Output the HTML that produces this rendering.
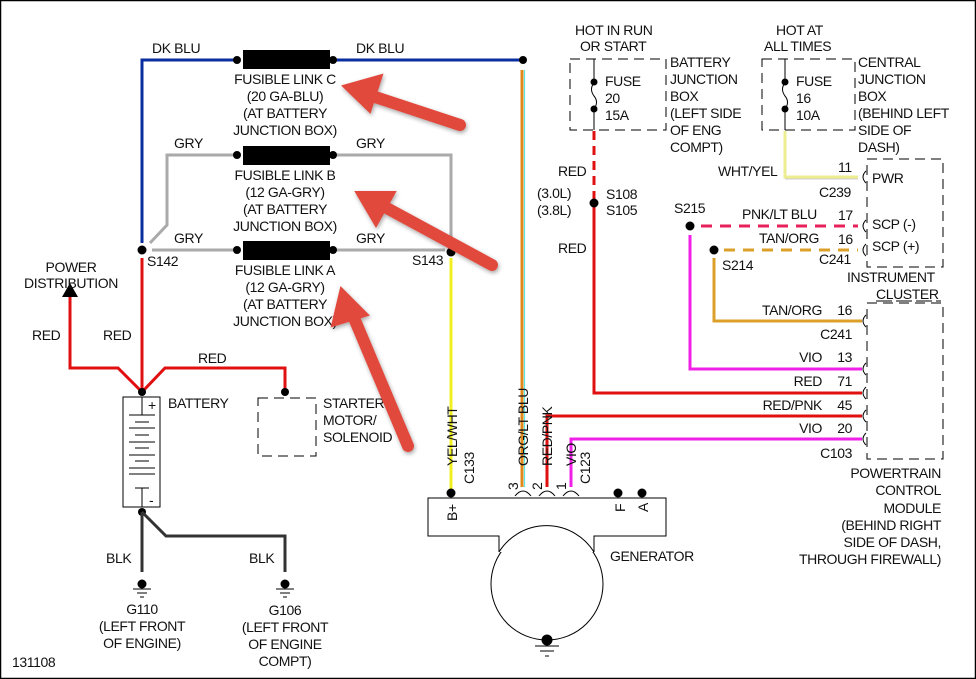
<!DOCTYPE html>
<html><head><meta charset="utf-8"><style>
html,body{margin:0;padding:0;background:#fff}
svg{display:block}
text{font-family:"Liberation Sans",sans-serif;font-size:14px;fill:#111;letter-spacing:-0.4px}
</style></head><body>
<svg width="976" height="679" viewBox="0 0 976 679" xmlns="http://www.w3.org/2000/svg">
<defs>
<filter id="sh" x="-20%" y="-20%" width="140%" height="140%"><feDropShadow dx="1" dy="2" stdDeviation="2" flood-color="#000" flood-opacity="0.35"/></filter>
</defs>
<rect x="0.5" y="0.5" width="975" height="678" fill="#fff" stroke="#000" stroke-width="1.5"/>

<!-- DK BLU -->
<polyline points="142,243 142,60 237,60" fill="none" stroke="#0a2ea0" stroke-width="3"/>
<line x1="333" y1="60" x2="520" y2="60" stroke="#0a2ea0" stroke-width="3"/>
<circle cx="523" cy="60" r="4" fill="#000"/>
<!-- ORG/LT BLU -->
<line x1="522" y1="70" x2="522" y2="487" stroke="#e08a1e" stroke-width="3"/>
<line x1="524.5" y1="70" x2="524.5" y2="487" stroke="#5fe6e6" stroke-width="1.2"/>
<!-- GRY -->
<polyline points="237,155 167,155 167,225 150,243" fill="none" stroke="#aaa" stroke-width="3"/>
<polyline points="333,155 451,155 451,250" fill="none" stroke="#aaa" stroke-width="3"/>
<line x1="152" y1="250" x2="237" y2="250" stroke="#aaa" stroke-width="3"/>
<line x1="333" y1="250" x2="445" y2="250" stroke="#aaa" stroke-width="3"/>
<!-- links -->
<g fill="#000">
<rect x="243" y="50" width="87" height="19"/><circle cx="237" cy="60" r="4"/><circle cx="333" cy="60" r="4"/>
<rect x="243" y="146" width="87" height="19"/><circle cx="237" cy="155" r="4"/><circle cx="333" cy="155" r="4"/>
<rect x="243" y="241" width="87" height="19"/><circle cx="237" cy="250" r="4"/><circle cx="333" cy="250" r="4"/>
<circle cx="142" cy="250" r="4.5"/><circle cx="451" cy="252" r="4.5"/>
</g>
<text x="152" y="53">DK BLU</text><text x="356" y="53">DK BLU</text>
<text x="174" y="148">GRY</text><text x="356" y="148">GRY</text>
<text x="174" y="243">GRY</text><text x="356" y="243">GRY</text>
<g text-anchor="middle">
<text x="285" y="84">FUSIBLE LINK C</text><text x="285" y="101">(20 GA-BLU)</text><text x="285" y="118">(AT BATTERY</text><text x="285" y="135">JUNCTION BOX)</text>
<text x="285" y="180">FUSIBLE LINK B</text><text x="285" y="197">(12 GA-GRY)</text><text x="285" y="214">(AT BATTERY</text><text x="285" y="231">JUNCTION BOX)</text>
<text x="285" y="275">FUSIBLE LINK A</text><text x="285" y="292">(12 GA-GRY)</text><text x="285" y="309">(AT BATTERY</text><text x="285" y="326">JUNCTION BOX)</text>
</g>
<text x="147" y="266">S142</text><text x="412" y="265">S143</text>

<!-- RED battery -->
<g fill="none" stroke="#e01010" stroke-width="3">
<line x1="142" y1="258" x2="142" y2="392"/>
<polyline points="142,392 118,368 70,368 70,295"/>
<polyline points="142,392 165,368 285,368 285,392"/>
</g>
<polygon points="70,283 62,297 78,297" fill="#000"/>
<text x="71" y="272" text-anchor="middle">POWER</text><text x="71" y="288" text-anchor="middle">DISTRIBUTION</text>
<text x="32" y="340">RED</text><text x="103" y="340">RED</text><text x="198" y="363">RED</text>
<!-- battery -->
<rect x="123" y="397" width="37" height="110" fill="#fff" stroke="#000"/>
<g stroke="#000" stroke-width="1">
<line x1="142" y1="397" x2="142" y2="415"/><line x1="129" y1="415" x2="155" y2="415"/>
<line x1="135" y1="422" x2="149" y2="422"/><line x1="129" y1="428" x2="155" y2="428"/>
<line x1="135" y1="435" x2="149" y2="435"/><line x1="129" y1="442" x2="155" y2="442"/>
<line x1="135" y1="448" x2="149" y2="448"/><line x1="129" y1="455" x2="155" y2="455"/>
<line x1="135" y1="461" x2="149" y2="461"/><line x1="129" y1="468" x2="155" y2="468"/>
<line x1="129" y1="474" x2="155" y2="474"/><line x1="135" y1="488" x2="149" y2="488"/><line x1="142" y1="488" x2="142" y2="507"/>
</g>
<text x="148" y="410" font-size="12">+</text><text x="149" y="505" font-size="12">-</text>
<circle cx="142" cy="392" r="4" fill="#000"/><circle cx="142" cy="512" r="4" fill="#000"/>
<text x="168" y="408">BATTERY</text>
<rect x="258" y="398" width="58" height="58" fill="none" stroke="#000" stroke-dasharray="10,6"/>
<circle cx="285" cy="392" r="4" fill="#000"/>
<text x="323" y="408">STARTER</text><text x="323" y="425">MOTOR/</text><text x="323" y="442">SOLENOID</text>
<!-- BLK -->
<g fill="none" stroke="#333" stroke-width="3">
<line x1="142" y1="512" x2="142" y2="572"/>
<polyline points="142,512 166,536 285,536 285,572"/>
</g>
<text x="106" y="563">BLK</text><text x="249" y="563">BLK</text>
<g stroke="#000">
<circle cx="142" cy="584" r="4" fill="#000"/><line x1="133" y1="589" x2="151" y2="589"/><line x1="137" y1="593" x2="147" y2="593"/><line x1="140" y1="597" x2="144" y2="597"/>
<circle cx="285" cy="584" r="4" fill="#000"/><line x1="276" y1="589" x2="294" y2="589"/><line x1="280" y1="593" x2="290" y2="593"/><line x1="283" y1="597" x2="287" y2="597"/>
</g>
<g text-anchor="middle">
<text x="142" y="614">G110</text><text x="142" y="631">(LEFT FRONT</text><text x="142" y="648">OF ENGINE)</text>
<text x="285" y="615">G106</text><text x="285" y="632">(LEFT FRONT</text><text x="285" y="649">OF ENGINE</text><text x="285" y="666">COMPT)</text>
</g>
<text x="12" y="667">131108</text>

<!-- generator wires -->
<line x1="451" y1="258" x2="451" y2="493" stroke="#f0f020" stroke-width="3"/>
<circle cx="451" cy="493" r="4.5" fill="#000"/>
<polyline points="547,487 547,416 862,416" fill="none" stroke="#e01010" stroke-width="3"/>
<polyline points="571,487 571,439 862,439" fill="none" stroke="#f020e8" stroke-width="3"/>
<text transform="translate(457,466) rotate(-90)">YEL/WHT</text>
<text transform="translate(474,484) rotate(-90)">C133</text>
<text transform="translate(528,466) rotate(-90)">ORG/LT BLU</text>
<text transform="translate(552,466) rotate(-90)">RED/PNK</text>
<text transform="translate(576,466) rotate(-90)">VIO</text>
<text transform="translate(590,484) rotate(-90)">C123</text>
<text transform="translate(518,490) rotate(-90)" font-size="13">3</text>
<text transform="translate(542,490) rotate(-90)" font-size="13">2</text>
<text transform="translate(566,490) rotate(-90)" font-size="13">1</text>
<g fill="none" stroke="#000">
<path d="M515,496 Q523,486 531,496"/><path d="M539,496 Q547,486 555,496"/><path d="M563,496 Q571,486 579,496"/>
</g>
<circle cx="547" cy="584" r="56" fill="#fff" stroke="#000"/>
<rect x="429" y="499" width="236" height="36" fill="#fff" stroke="none"/>
<rect x="500" y="530" width="93" height="22" fill="#fff" stroke="none"/>
<polyline points="499,552 499,536 428,536 428,498 666,498 666,536 594,536 594,552" fill="none" stroke="#000"/>
<path d="M499,552 A56,56 0 0 1 594,552" fill="none" stroke="#000"/>
<circle cx="618" cy="493" r="4.5" fill="#000"/><circle cx="642" cy="493" r="4.5" fill="#000"/>
<text transform="translate(457,521) rotate(-90)" font-size="13">B+</text>
<text transform="translate(625,512) rotate(-90)" font-size="13">F</text>
<text transform="translate(648,512) rotate(-90)" font-size="13">A</text>
<text x="610" y="561">GENERATOR</text>
<g stroke="#000"><circle cx="547" cy="640" r="5" fill="#000"/><line x1="535" y1="646" x2="559" y2="646"/><line x1="540" y1="651" x2="554" y2="651"/><line x1="545" y1="656" x2="549" y2="656"/></g>

<!-- fuse boxes -->
<text x="575" y="35">HOT IN RUN</text><text x="580" y="51">OR START</text>
<rect x="570" y="59" width="96" height="71" fill="none" stroke="#000" stroke-dasharray="10,6"/>
<line x1="594" y1="59" x2="594" y2="130" stroke="#000"/>
<line x1="594" y1="83" x2="594" y2="108" stroke="#fff" stroke-width="3"/>
<path d="M594,83 q-5,6 0,13 q5,6 0,13" fill="none" stroke="#000"/>
<circle cx="594" cy="82" r="3.5" fill="#000"/><circle cx="594" cy="109" r="3.5" fill="#000"/>
<text x="605" y="86">FUSE</text><text x="605" y="103">20</text><text x="605" y="120">15A</text>
<text x="670" y="67">BATTERY</text><text x="670" y="84">JUNCTION</text><text x="670" y="101">BOX</text><text x="670" y="118">(LEFT SIDE</text><text x="670" y="135">OF ENG</text><text x="670" y="152">COMPT)</text>

<text x="776" y="35">HOT AT</text><text x="764" y="51">ALL TIMES</text>
<rect x="762" y="59" width="93" height="71" fill="none" stroke="#000" stroke-dasharray="10,6"/>
<line x1="785" y1="59" x2="785" y2="130" stroke="#000"/>
<line x1="785" y1="83" x2="785" y2="108" stroke="#fff" stroke-width="3"/>
<path d="M785,83 q-5,6 0,13 q5,6 0,13" fill="none" stroke="#000"/>
<circle cx="785" cy="82" r="3.5" fill="#000"/><circle cx="785" cy="109" r="3.5" fill="#000"/>
<text x="796" y="86">FUSE</text><text x="796" y="103">16</text><text x="796" y="120">10A</text>
<text x="858" y="67">CENTRAL</text><text x="858" y="84">JUNCTION</text><text x="858" y="101">BOX</text><text x="858" y="118">(BEHIND LEFT</text><text x="858" y="135">SIDE OF</text><text x="858" y="152">DASH)</text>

<!-- red run wire -->
<line x1="594" y1="131" x2="594" y2="200" stroke="#e01010" stroke-width="3" stroke-dasharray="9,6"/>
<polyline points="594,207 594,393 862,393" fill="none" stroke="#e01010" stroke-width="3"/>
<circle cx="594" cy="203" r="4.5" fill="#000"/>
<text x="558" y="176">RED</text><text x="606" y="199">S108</text><text x="606" y="215">S105</text>
<text x="537" y="198">(3.0L)</text><text x="537" y="215">(3.8L)</text><text x="558" y="253">RED</text>

<!-- instrument cluster -->
<polyline points="785,131 785,177 858,177" fill="none" stroke="#ecec90" stroke-width="3"/>
<line x1="785" y1="179" x2="858" y2="179" stroke="#ccc" stroke-width="1"/>
<text x="718" y="176">WHT/YEL</text><text x="838" y="172">11</text><text x="819" y="197">C239</text>
<rect x="867" y="159" width="76" height="108" fill="none" stroke="#000" stroke-dasharray="10,6"/>
<text x="872" y="183">PWR</text><text x="872" y="229">SCP (-)</text><text x="872" y="251">SCP (+)</text>
<circle cx="690" cy="226" r="4.5" fill="#000"/>
<line x1="701" y1="226" x2="858" y2="226" stroke="#e8205a" stroke-width="3" stroke-dasharray="11,8"/>
<circle cx="714" cy="250" r="4.5" fill="#000"/>
<line x1="724" y1="250" x2="858" y2="250" stroke="#dca02a" stroke-width="3" stroke-dasharray="11,8"/>
<text x="674" y="213">S215</text><text x="742" y="219">PNK/LT BLU</text><text x="838" y="220">17</text>
<text x="759" y="243">TAN/ORG</text><text x="838" y="244">16</text><text x="819" y="264">C241</text><text x="722" y="270">S214</text>
<text x="847" y="282">INSTRUMENT</text><text x="876" y="299">CLUSTER</text>
<line x1="876" y1="301" x2="941" y2="301" stroke="#000" stroke-dasharray="16,4"/>
<polyline points="690,235 690,369 862,369" fill="none" stroke="#f020e8" stroke-width="3"/>
<polyline points="714,258 714,321 862,321" fill="none" stroke="#dca02a" stroke-width="3"/>

<!-- PCM -->
<rect x="867" y="303" width="76" height="156" fill="none" stroke="#000" stroke-dasharray="10,6"/>
<g text-anchor="end">
<text x="822" y="315">TAN/ORG</text><text x="852" y="315">16</text><text x="852" y="339">C241</text>
<text x="822" y="362">VIO</text><text x="852" y="362">13</text>
<text x="822" y="386">RED</text><text x="852" y="386">71</text>
<text x="822" y="410">RED/PNK</text><text x="852" y="410">45</text>
<text x="822" y="433">VIO</text><text x="852" y="433">20</text><text x="852" y="458">C103</text>
<text x="941" y="478">POWERTRAIN</text><text x="941" y="495">CONTROL</text><text x="941" y="513">MODULE</text><text x="941" y="530">(BEHIND RIGHT</text><text x="941" y="547">SIDE OF DASH,</text><text x="941" y="564">THROUGH FIREWALL)</text>
</g>
<g fill="none" stroke="#000">
<path d="M866,171 q-6,6 0,12"/><path d="M866,220 q-6,6 0,12"/><path d="M866,244 q-6,6 0,12"/>
<path d="M866,315 q-6,6 0,12"/><path d="M866,363 q-6,6 0,12"/><path d="M866,387 q-6,6 0,12"/><path d="M866,410 q-6,6 0,12"/><path d="M866,433 q-6,6 0,12"/>
</g>

<!-- red arrows -->
<g fill="#e2483e" stroke="#e2483e" stroke-width="12" stroke-linecap="round" filter="url(#sh)">
<line x1="460" y1="125" x2="372" y2="96"/>
<polygon points="343,86 382,75 370,112" stroke-width="2"/>
<line x1="492" y1="265" x2="383" y2="206"/>
<polygon points="356,192 395,192 376,226" stroke-width="2"/>
<line x1="408" y1="446" x2="354" y2="318"/>
<polygon points="341,288 368,315 332,326" stroke-width="2"/>
</g>
</svg>
</body></html>
